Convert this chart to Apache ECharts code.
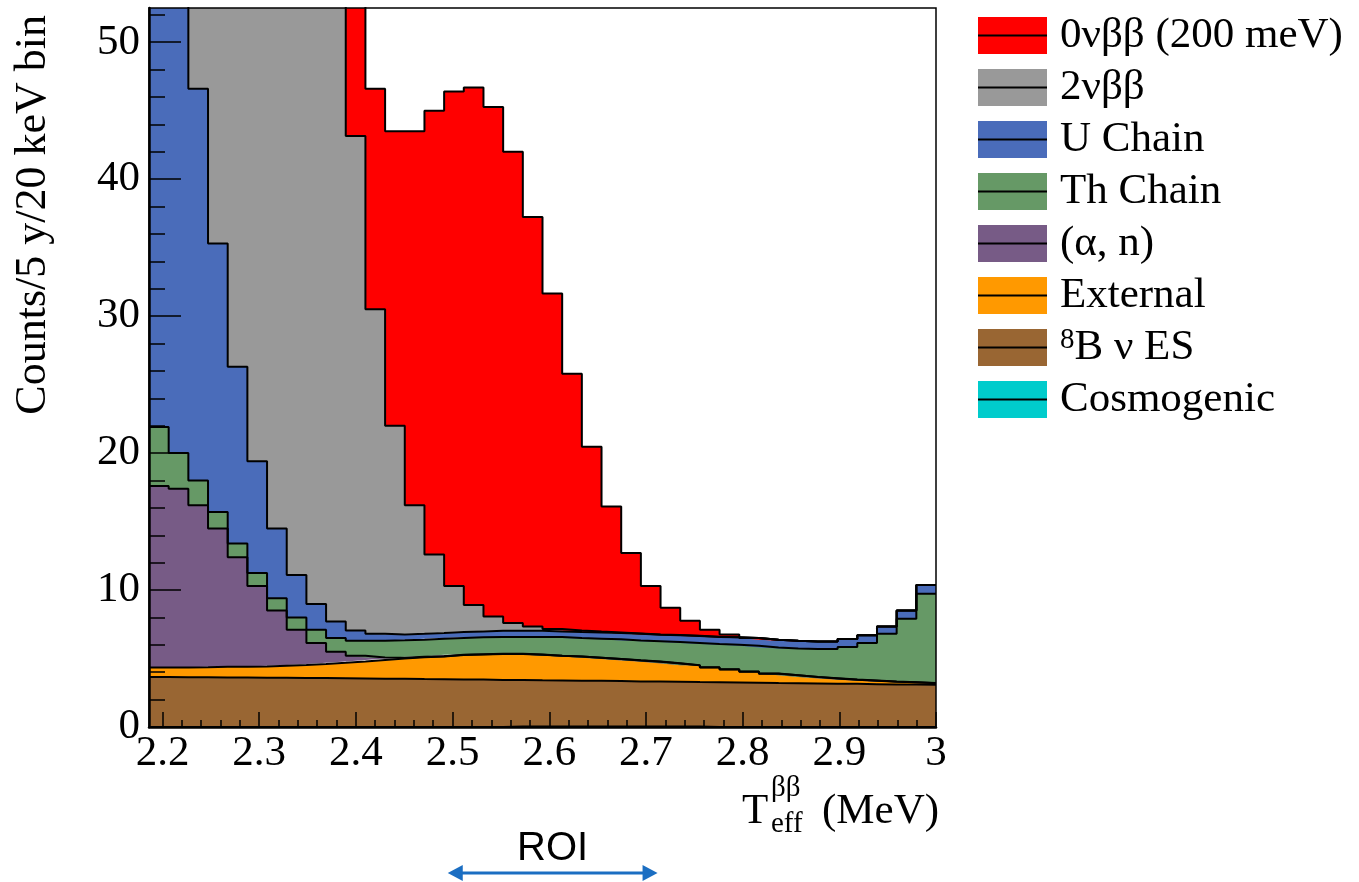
<!DOCTYPE html>
<html><head><meta charset="utf-8">
<script src="https://cdn.jsdelivr.net/npm/echarts@6/dist/echarts.min.js"></script>
<style>html,body{margin:0;padding:0;background:#fff}#c{width:1359px;height:882px}</style>
</head><body><div id="c"></div>
<script>
// ---- histogram definition (MeV) ----
const binLow = 2.186;
const binHigh = 3.0;
const nBins = 40;

// ---- tick values / labels ----
const xMajorTicks = [2.2, 2.3, 2.4, 2.5, 2.6, 2.7, 2.8, 2.9, 3.0];
const xTickLabels = ['2.2', '2.3', '2.4', '2.5', '2.6', '2.7', '2.8', '2.9', '3'];
const xMinorTicks = [2.2,2.22,2.24,2.26,2.28,2.3,2.32,2.34,2.36,2.38,2.4,2.42,2.44,2.46,2.48,2.5,2.52,2.54,2.56,2.58,2.6,2.62,2.64,2.66,2.68,2.7,2.72,2.74,2.76,2.78,2.8,2.82,2.84,2.86,2.88,2.9,2.92,2.94,2.96,2.98,3.0];
const yMajorTicks = [0, 10, 20, 30, 40, 50];
const yTickLabels = ['0', '10', '20', '30', '40', '50'];
const yMinorTicks = [2,4,6,8,12,14,16,18,22,24,26,28,32,34,36,38,42,44,46,48,52];
const roiRange = [2.495, 2.712];

// ---- per-bin counts for each component (Counts / 5 y / bin) ----
const zeroNuBB = [0.02,0.05,0.1,0.2,0.4,0.8,1.5,2.7,4.6,7.5, 11.4,16.1,21.5,27.3,32.4,36.1,37.8,37.2,34.4,29.9, 24.5,18.75,13.5,9.2,5.87,3.54,1.99,1.10,0.51,0.20, 0,0,0,0,0,0,0,0,0,0];
const twoNuBB = [1400,1050,780,560,400,280,190,130,86,56, 36.1,23.7,15.25,9.40,5.74,3.37,1.92,1.04,0.57,0.32, 0.17,0.12,0.07,0.04,0.03,0.02,0.01,0.01,0.01,0.01, 0,0,0,0,0,0,0,0,0,0];
const uChain = [62.0,42.0,28.6,19.6,12.9,8.16,5.10,3.10,1.88,1.20, 0.75,0.50,0.42,0.43,0.41,0.43,0.43,0.46,0.45,0.44, 0.41,0.43,0.45,0.46,0.48,0.48,0.50,0.52,0.52,0.55, 0.57,0.56,0.56,0.56,0.56,0.58,0.57,0.53,0.60,0.63];
const thChain = [4.30,2.60,1.80,1.20,1.00,0.94,0.90,0.90,0.97,1.00, 1.10,1.22,1.28,1.24,1.28,1.23,1.24,1.23,1.24,1.29, 1.36,1.35,1.39,1.43,1.45,1.48,1.55,1.62,1.70,1.79, 1.88,1.91,1.96,2.03,2.13,2.38,2.74,3.49,4.63,6.52];
const alphaN = [13.25,13.05,11.83,10.10,8.00,5.88,4.03,2.58,1.53,0.81, 0.41,0.18,0.05,0.03,0.02,0.02,0.01,0.01,0.01,0.01, 0.01,0.01,0.01,0.01,0.01,0.01,0.01,0.01,0.01,0.01, 0.01,0.01,0.01,0.01,0.01,0.01,0.01,0.01,0.01,0.01];
const external = [0.70,0.71,0.74,0.78,0.79,0.82,0.88,0.94,1.03,1.13, 1.24,1.37,1.48,1.60,1.66,1.78,1.84,1.89,1.90,1.87, 1.80,1.76,1.68,1.61,1.53,1.45,1.34,1.22,1.08,0.95, 0.81,0.68,0.57,0.47,0.39,0.30,0.25,0.20,0.16,0.12];
const b8Nu = [3.65,3.64,3.63,3.62,3.61,3.60,3.59,3.58,3.57,3.56, 3.55,3.53,3.52,3.50,3.49,3.47,3.46,3.44,3.40,3.38, 3.37,3.35,3.34,3.32,3.30,3.29,3.27,3.25,3.27,3.25, 3.23,3.21,3.20,3.18,3.16,3.15,3.13,3.11,3.10,3.08];
const cosmogenic = [0,0,0,0,0,0,0,0,0,0, 0,0,0,0,0,0,0,0,0.03,0.03, 0.03,0.03,0.03,0.03,0.03,0.03,0.03,0.03,0,0, 0,0,0,0,0,0,0,0,0,0];

// legend order (top of stack first)
const components = [
  {name: '0νββ (200 meV)', color: '#ff0000', values: zeroNuBB},
  {name: '2νββ', color: '#999999', values: twoNuBB},
  {name: 'U Chain', color: '#4a6cba', values: uChain},
  {name: 'Th Chain', color: '#669966', values: thChain},
  {name: '(α, n)', color: '#775b86', values: alphaN},
  {name: 'External', color: '#ff9900', values: external},
  {name: '⁸B ν ES', color: '#996633', values: b8Nu},
  {name: 'Cosmogenic', color: '#00cccc', values: cosmogenic}
];

const binW = (binHigh - binLow) / nBins;
const edges = [];
for (let i = 0; i <= nBins; i++) edges.push(+(binLow + i * binW).toFixed(6));
// points as [count, energy]; count first so that the stack runs along y
function histPoints(vals) {
  const pts = vals.map((v, i) => [v, edges[i]]);
  pts.push([vals[nBins - 1], edges[nBins]]);
  return pts;
}
function iconFor(c) {
  const svg = '<svg xmlns="http://www.w3.org/2000/svg" width="69" height="37"><rect width="69" height="37" fill="' + c + '"/><line x1="0" y1="18.5" x2="69" y2="18.5" stroke="#000" stroke-width="2"/></svg>';
  return 'image://data:image/svg+xml;charset=utf-8,' + encodeURIComponent(svg);
}

const SERIF = "'Liberation Serif','Times New Roman',serif";
const chart = echarts.init(document.getElementById('c'), null, {renderer: 'canvas'});

// stacking order: bottom first
const stackOrder = components.slice().reverse();
const common = {
  type: 'line', step: 'end', showSymbol: false, symbol: 'none', clip: true, silent: true,
  dimensions: ['count', 'energy'], encode: {x: 'energy', y: 'count'},
  emphasis: {disabled: true}
};
const fillSeries = stackOrder.map(c => Object.assign({}, common, {
  name: c.name, stack: 'fill', data: histPoints(c.values),
  lineStyle: {width: 0, color: c.color}, itemStyle: {color: c.color},
  areaStyle: {color: c.color, opacity: 1}, z: 2
}));
const outlineSeries = stackOrder.map(c => Object.assign({}, common, {
  name: c.name, stack: 'outline', data: histPoints(c.values),
  lineStyle: {color: '#000', width: 2}, itemStyle: {color: c.color}, z: 3
}));

chart.setOption({
  animation: false,
  backgroundColor: '#fff',
  grid: {left: 149, right: 423, top: 8, bottom: 155, show: true, z: 6,
         backgroundColor: 'transparent', borderColor: '#000', borderWidth: 1.5,
         outerBoundsMode: 'none', containLabel: false},
  xAxis: [{
    type: 'value', min: binLow, max: binHigh, position: 'bottom', z: 5,
    axisLine: {show: true, onZero: false, lineStyle: {color: '#000', width: 2.5}},
    axisTick: {show: true, inside: true, length: 15, customValues: xMajorTicks, lineStyle: {color: '#000', width: 1.5}},
    axisLabel: {show: true, customValues: xMajorTicks, margin: 5, color: '#000', fontFamily: SERIF, fontSize: 43,
      formatter: v => xTickLabels[xMajorTicks.findIndex(t => Math.abs(t - v) < 1e-6)]},
    splitLine: {show: false}, minorTick: {show: false}
  }, {
    type: 'value', min: binLow, max: binHigh, position: 'bottom', z: 5,
    axisLine: {show: false, onZero: false},
    axisTick: {show: true, inside: true, length: 7, customValues: xMinorTicks, lineStyle: {color: '#000', width: 1.5}},
    axisLabel: {show: false}, splitLine: {show: false}
  }],
  yAxis: [{
    type: 'value', min: 0, max: 52.5, position: 'left', z: 5,
    axisLine: {show: true, onZero: false, lineStyle: {color: '#000', width: 2.5}},
    axisTick: {show: true, inside: true, length: 32, customValues: yMajorTicks, lineStyle: {color: '#000', width: 1.5}},
    axisLabel: {show: true, customValues: yMajorTicks, margin: 9, color: '#000', fontFamily: SERIF, fontSize: 43,
      formatter: v => yTickLabels[yMajorTicks.findIndex(t => Math.abs(t - v) < 1e-6)]},
    splitLine: {show: false}
  }, {
    type: 'value', min: 0, max: 52.5, position: 'left', offset: 0, z: 5,
    axisLine: {show: false, onZero: false},
    axisTick: {show: true, inside: true, length: 16, customValues: yMinorTicks, lineStyle: {color: '#000', width: 1.5}},
    axisLabel: {show: false}, splitLine: {show: false}
  }],
  legend: {
    orient: 'vertical', left: 978, top: 14, padding: 0, itemWidth: 69, itemHeight: 37, itemGap: 9,
    selectedMode: false,
    formatter: n => n === '⁸B ν ES' ? '{sup|8}B ν ES' : n,
    textStyle: {fontFamily: SERIF, fontSize: 43, color: '#000', padding: [0, 0, 0, 8],
      rich: {sup: {fontFamily: SERIF, fontSize: 29, color: '#000', verticalAlign: 'top', padding: [0, 0, 0, 0]}}},
    data: components.map(c => ({name: c.name, icon: iconFor(c.color)}))
  },
  series: fillSeries.concat(outlineSeries)
});

// axis titles and ROI annotation
const x0 = chart.convertToPixel({xAxisIndex: 0}, roiRange[0]);
const x1 = chart.convertToPixel({xAxisIndex: 0}, roiRange[1]);
const ay = 873, ac = '#1b6ec2';
chart.setOption({
  graphic: [
    {type: 'text', x: 33, y: 15, rotation: Math.PI / 2, silent: true,
     style: {text: 'Counts/5 y/20 keV bin', fontFamily: SERIF, fontSize: 44, fill: '#000', align: 'right', verticalAlign: 'middle'}},
    {type: 'text', x: 742, y: 812, silent: true,
     style: {text: 'T', fontFamily: SERIF, fontSize: 43, fill: '#000', align: 'left', verticalAlign: 'middle'}},
    {type: 'text', x: 771, y: 788, silent: true,
     style: {text: 'ββ', fontFamily: SERIF, fontSize: 29, fill: '#000', align: 'left', verticalAlign: 'middle'}},
    {type: 'text', x: 771, y: 824, silent: true,
     style: {text: 'eff', fontFamily: SERIF, fontSize: 29, fill: '#000', align: 'left', verticalAlign: 'middle'}},
    {type: 'text', x: 939, y: 812, silent: true,
     style: {text: '(MeV)', fontFamily: SERIF, fontSize: 43, fill: '#000', align: 'right', verticalAlign: 'middle'}},
    {type: 'text', x: (x0 + x1) / 2, y: 849, silent: true,
     style: {text: 'ROI', fontFamily: "'Liberation Sans','Open Sans',sans-serif", fontSize: 40, fill: '#000', align: 'center', verticalAlign: 'middle'}},
    {type: 'line', silent: true, shape: {x1: x0 + 10, y1: ay, x2: x1 - 10, y2: ay}, style: {stroke: ac, lineWidth: 3}},
    {type: 'polygon', silent: true, shape: {points: [[x0, ay], [x0 + 15, ay - 8], [x0 + 15, ay + 8]]}, style: {fill: ac}},
    {type: 'polygon', silent: true, shape: {points: [[x1, ay], [x1 - 15, ay - 8], [x1 - 15, ay + 8]]}, style: {fill: ac}}
  ]
});
</script>
</body></html>
